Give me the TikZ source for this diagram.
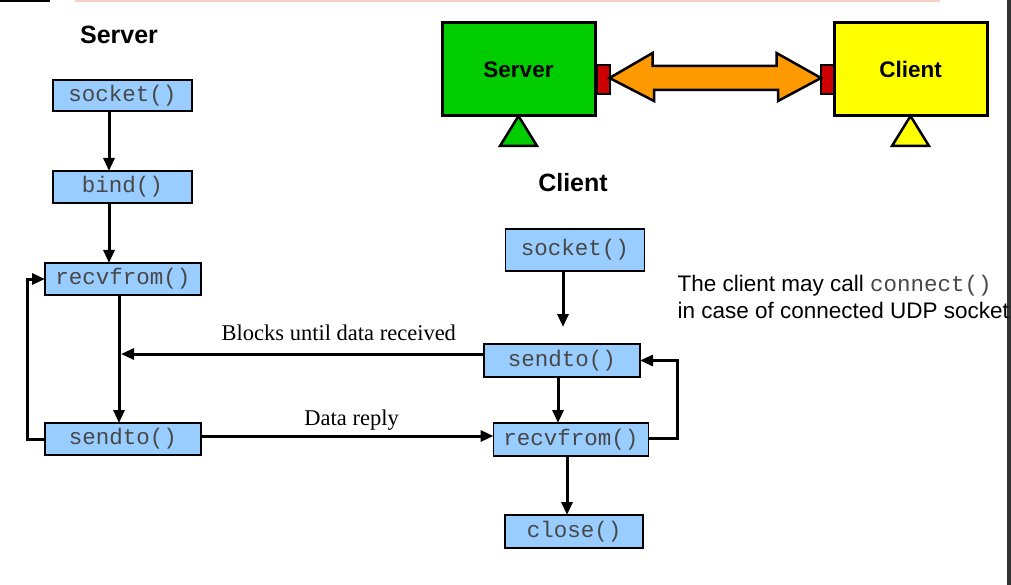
\documentclass[tikz,border=0pt]{standalone}
\usepackage{fontspec}
\setmainfont{Liberation Sans}
\setmonofont{Liberation Mono}
\newfontfamily\romana{Liberation Serif}
\usetikzlibrary{arrows.meta}
\definecolor{V}{RGB}{0, 204, 0}
\definecolor{A}{RGB}{255, 255, 0}
\definecolor{N}{RGB}{255, 153, 0}
\definecolor{R}{RGB}{204, 0, 0}
\definecolor{C}{RGB}{153, 204, 255}
\definecolor{P}{RGB}{248, 208, 200}
\tikzset{
  caja/.style={draw=black, fill=C, line width=1.2pt, inner sep=0pt, outer sep=0pt,
    minimum height=32pt, text=black!72, font=\fontsize{22.5}{26}\selectfont\ttfamily},
  flecha/.style={line width=3pt, -{Triangle[length=13pt,width=11pt]}},
  titulo/.style={font=\fontsize{25}{30}\selectfont\bfseries},
  etiqueta/.style={inner sep=0pt, font=\fontsize{22.5}{26}\selectfont\romana},
  bloque/.style={draw=black, line width=3pt, inner sep=0pt, outer sep=0pt,
    minimum width=153pt, minimum height=93pt, font=\fontsize{22.5}{26}\selectfont\bfseries},
  puerto/.style={draw=black, fill=R, line width=2pt, inner sep=0pt, outer sep=0pt,
    minimum width=13pt, minimum height=29pt}
}

\begin{document}
\begin{tikzpicture}[x=1pt, y=-1pt]
  \useasboundingbox (0,0) rectangle (1011,585);
  \fill[white] (0,0) rectangle (1011,585);

  %# BORDES DE LA CAPTURA
  \fill[black] (0,0) rectangle (50,2.5);
  \draw[P, line width=2pt] (75,1) -- (940,1);
  \fill[black!80] (1007,0) rectangle (1011,585);

  %# ESQUEMA SERVIDOR - CLIENTE
  \node[bloque, fill=V] (srv) at (518.5,69.5) {Server};
  \node[bloque, fill=A] (cli) at (910.5,69.5) {Client};
  \node[puerto] (lport) at (603,79.5) {};
  \node[puerto] (rport) at (827.5,79.5) {};
  \draw[fill=N, line width=2.5pt, line join=miter] (lport.east |- 0,78) -- ++(43,-25) -- ++(0,13)
    -- ++(124,0) -- ++(0,-13) -- (rport.west |- 0,78) -- ++(-43,23) -- ++(0,-11)
    -- ++(-124,0) -- ++(0,11) -- cycle;
  \draw[fill=V, line width=2.5pt] (srv.south) -- ++(-18.5,30) -- ++(37,0) -- cycle;
  \draw[fill=A, line width=2.5pt] (cli.south) -- ++(-18.5,30) -- ++(37,0) -- cycle;

  %# LADO SERVIDOR
  \node[titulo] (tserv) at (119,35) {Server};
  \node[caja, minimum width=139pt, minimum height=31pt] (ssock) at (122.5,95.5) {socket()};
  \node[caja, minimum width=139pt] (sbind) at (122.5,187) {bind()};
  \node[caja, minimum width=156pt] (srecv) at (123,279) {recvfrom()};
  \node[caja, minimum width=156pt] (ssend) at (123,439) {sendto()};

  \draw[flecha] ([xshift=-13.5pt]ssock.south) -- ([xshift=-13.5pt]sbind.north);
  \draw[flecha] ([xshift=-13.5pt]sbind.south) -- ([xshift=-14pt]srecv.north);
  \draw[flecha] ([xshift=-4pt]srecv.south) -- ([xshift=-4pt]ssend.north);
  \draw[flecha] (ssend.west) -- ++(-18,0) |- (srecv.west);

  %# LADO CLIENTE
  \node[titulo] (tcli) at (573,183) {Client};
  \node[caja, minimum width=139pt, minimum height=42pt] (csock) at (575,250) {socket()};
  \node[caja, minimum width=156pt, minimum height=33pt] (csend) at (562,360.5) {sendto()};
  \node[caja, minimum width=155pt, minimum height=33pt] (crecv) at (571,439.5) {recvfrom()};
  \node[caja, minimum width=138pt, minimum height=33pt] (cclose) at (574,531.5) {close()};

  \draw[flecha, shorten >=17pt] ([xshift=-12pt]csock.south) -- ([xshift=-12pt]csock.south |- csend.north);
  \draw[flecha] ([xshift=-4pt]csend.south) -- ([xshift=-4pt]csend.south |- crecv.north);
  \draw[flecha] ([xshift=-4pt]crecv.south) -- ([xshift=-4pt]crecv.south |- cclose.north);
  \draw[flecha] ([yshift=1.5pt]crecv.east) -- ++(29,0) |- (csend.east);

  \node[anchor=west, align=left, font=\fontsize{22.5}{27}\selectfont] (nota) at (674,296.5)
    {The client may call {\ttfamily\color{black!72}connect()}\\in case of connected UDP socket};

  %# DATOS ENTRE AMBOS
  \coordinate (blk) at (121,354);
  \draw[flecha] ([yshift=6.5pt]csend.west) -- (blk)
    node[etiqueta, pos=0.4, above=12pt] (lblk) {Blocks until data received};
  \draw[flecha] ([yshift=3pt]ssend.east) -- ([yshift=3pt]ssend.east -| crecv.west)
    node[etiqueta, pos=0.515, above=4pt] (lrep) {Data reply};
\end{tikzpicture}
\end{document}
